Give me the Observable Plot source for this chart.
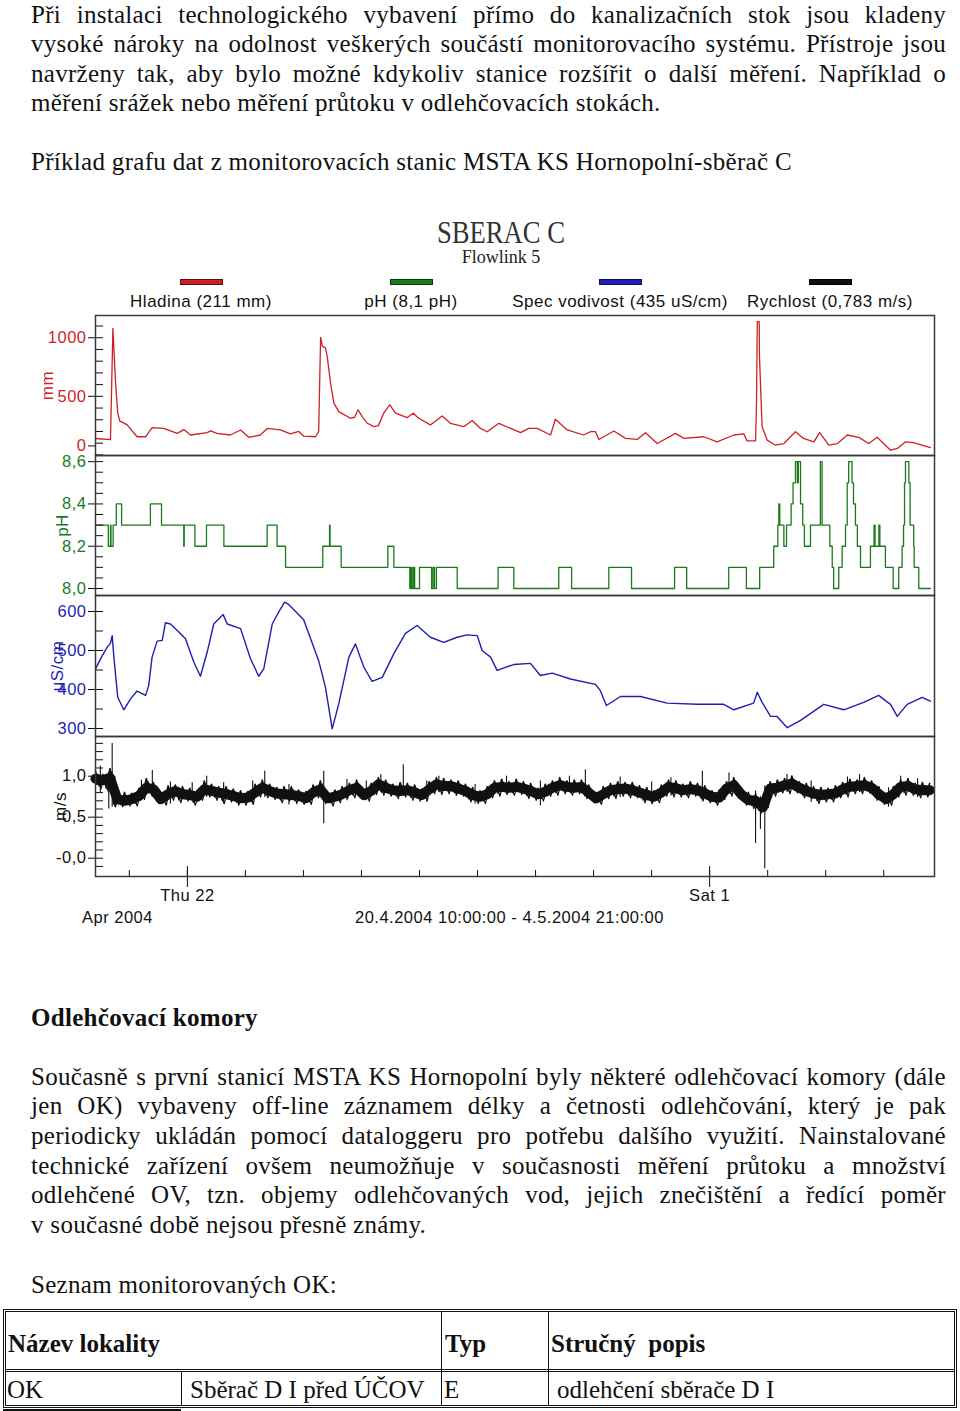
<!DOCTYPE html>
<html><head><meta charset="utf-8">
<script src="https://cdn.jsdelivr.net/npm/d3@7"></script>
<script src="https://cdn.jsdelivr.net/npm/@observablehq/plot@0.6"></script>
<style>
html,body{margin:0;padding:0;background:#fff;}
body{width:960px;height:1411px;position:relative;overflow:hidden;}
.abs{position:absolute;}
.serif{font-family:"Liberation Serif","Times New Roman",serif;color:#111;}
.sans{font-family:"Liberation Sans",Arial,sans-serif;color:#111;}
.p{position:absolute;left:31px;width:915px;font-size:25px;letter-spacing:0.3px;}
.p div{white-space:nowrap;text-align:justify;text-align-last:justify;}
.p div.last{text-align-last:left;}
.p1 div{height:29.5px;line-height:29.5px;}
.p2 div{height:29.6px;line-height:29.6px;}
.one{position:absolute;left:31px;font-size:25px;letter-spacing:0.3px;white-space:nowrap;line-height:29.5px;}
.cell{position:absolute;font-size:25px;line-height:25px;white-space:nowrap;}
.b{font-weight:bold;}
</style></head><body>

<div class="p p1 serif" style="top:-0.5px">
<div>Při instalaci technologického vybavení přímo do kanalizačních stok jsou kladeny</div>
<div>vysoké nároky na odolnost veškerých součástí monitorovacího systému. Přístroje jsou</div>
<div>navrženy tak, aby bylo možné kdykoliv stanice rozšířit o další měření. Například o</div>
<div class="last">měření srážek nebo měření průtoku v odlehčovacích stokách.</div>
</div>
<div class="one serif" style="top:146.8px">Příklad grafu dat z monitorovacích stanic MSTA KS Hornopolní-sběrač C</div>

<div id="title" class="abs serif" style="left:501px;top:216.6px;font-size:31px;line-height:31px;white-space:nowrap;transform:translateX(-50%) scaleX(0.86);color:#333">SBERAC C</div>
<div id="subtitle" class="abs serif" style="left:501px;top:247.9px;font-size:18px;line-height:18px;white-space:nowrap;transform:translateX(-50%);color:#222">Flowlink 5</div>
<div id="legend"></div>
<div id="charts"></div>
<div class="abs sans" style="left:82px;top:909px;font-size:16.5px;line-height:16.5px;letter-spacing:0.5px;white-space:nowrap">Apr 2004</div>
<div class="abs sans" style="left:355px;top:909px;font-size:16.5px;line-height:16.5px;letter-spacing:0.5px;white-space:nowrap">20.4.2004 10:00:00 - 4.5.2004 21:00:00</div>

<div class="one serif b" style="top:1002.8px">Odlehčovací komory</div>
<div class="p p2 serif" style="top:1061.8px">
<div>Současně s první stanicí MSTA KS Hornopolní byly některé odlehčovací komory (dále</div>
<div>jen OK) vybaveny off-line záznamem délky a četnosti odlehčování, který je pak</div>
<div>periodicky ukládán pomocí dataloggeru pro potřebu dalšího využití. Nainstalované</div>
<div>technické zařízení ovšem neumožňuje v současnosti měření průtoku a množství</div>
<div>odlehčené OV, tzn. objemy odlehčovaných vod, jejich znečištění a ředící poměr</div>
<div class="last">v současné době nejsou přesně známy.</div>
</div>
<div class="one serif" style="top:1269.8px">Seznam monitorovaných OK:</div>

<!-- table -->
<div class="abs" style="left:3px;top:1309px;width:948px;height:93px;border:3px double #111;"></div>
<div class="abs" style="left:6px;top:1369px;width:948px;height:0;border-top:3px double #111;"></div>
<div class="abs" style="left:441px;top:1312px;width:0;height:93px;border-left:1.5px solid #111;"></div>
<div class="abs" style="left:548px;top:1312px;width:0;height:93px;border-left:1.5px solid #111;"></div>
<div class="abs" style="left:181px;top:1372px;width:0;height:33px;border-left:1.5px solid #111;"></div>
<div class="abs" style="left:3px;top:1409px;width:178px;height:1.5px;background:#111;"></div>
<div class="cell serif b" style="left:8px;top:1331px">Název lokality</div>
<div class="cell serif b" style="left:445px;top:1331px">Typ</div>
<div class="cell serif b" style="left:551px;top:1331px">Stručný&nbsp; popis</div>
<div class="cell serif" style="left:7px;top:1377px">OK</div>
<div class="cell serif" style="left:190px;top:1377px">Sběrač D I před ÚČOV</div>
<div class="cell serif" style="left:444px;top:1377px">E</div>
<div class="cell serif" style="left:557px;top:1377px">odlehčení sběrače D I</div>

<script>
// ---------- data (hours since 20.4.2004 10:00) ----------
const legendLabels = ["Hladina (211 mm)", "pH (8,1 pH)", "Spec vodivost (435 uS/cm)", "Rychlost (0,783 m/s)"];
const seriesColors = ["#cf1f27", "#1b7a1b", "#1f1fb2", "#111111"];
const unitLabels = ["mm", "pH", "μS/cm", "m/s"];

// Hladina [hour, mm]
const levelReadings = [[0,140],[6.2,130],[6.7,600],[7.2,1080],[8.3,615],[9.2,356],[10.0,290],[13.1,256],[17.2,155],[20.7,155],[23.4,233],[28.2,226],[33.8,184],[36.5,216],[39.3,170],[46.2,190],[47.6,205],[50.3,184],[55.8,170],[60.0,213],[63.4,150],[68.2,170],[71.0,226],[76.5,213],[80.6,180],[84.1,200],[86.1,160],[91.0,155],[92.3,200],[93.1,1003],[93.8,931],[95.1,913],[95.8,845],[97.2,615],[98.6,442],[100.6,370],[105.5,313],[107.1,320],[108.6,385],[110.3,327],[112.4,270],[115.1,241],[117.0,250],[119.2,356],[121.7,428],[124.1,356],[128.9,319],[131.4,356],[133.7,313],[138.5,256],[143.4,333],[146.8,270],[152.3,241],[155.8,293],[159.2,226],[162.0,198],[166.8,270],[175.8,190],[179.2,226],[182.7,226],[188.2,170],[190.2,304],[195.1,213],[201.9,170],[204.7,198],[206.8,198],[208.2,132],[214.4,204],[219.2,141],[224.0,132],[227.5,190],[232.3,97],[239.9,184],[243.3,141],[251.6,155],[257.1,112],[264.0,170],[268.1,180],[269.5,120],[273.0,120],[273.4,457],[273.7,1138],[274.5,1138],[274.6,845],[275.7,241],[277.8,126],[281.2,83],[284.7,97],[289.5,198],[292.8,141],[297.1,112],[299.5,190],[303.3,83],[306.9,97],[310.9,170],[315.7,150],[319.8,97],[323.3,150],[328.8,40],[331.7,55],[335.0,112],[338.3,105],[345.3,63]];

// pH [hour, pH] (step)
const phReadings = [[0,8.3],[5.3,8.2],[6.2,8.3],[6.4,8.2],[7.3,8.3],[8.6,8.4],[10.8,8.3],[22.7,8.4],[27.3,8.3],[36.5,8.2],[36.7,8.3],[41.1,8.2],[45.9,8.3],[53.1,8.2],[71.0,8.3],[75.1,8.2],[78.6,8.1],[94.0,8.2],[96.8,8.3],[97.0,8.2],[101.6,8.1],[120.9,8.2],[123.4,8.1],[130.0,8.0],[130.5,8.1],[130.9,8.0],[131.5,8.1],[132.0,8.0],[134.0,8.1],[139.0,8.0],[139.6,8.1],[140.2,8.0],[141.0,8.1],[149.6,8.0],[166.5,8.1],[173.0,8.0],[191.6,8.1],[196.9,8.0],[212.3,8.1],[221.7,8.0],[239.5,8.1],[244.5,8.0],[261.9,8.1],[269.2,8.0],[274.7,8.1],[280.5,8.2],[282.2,8.3],[282.6,8.4],[283.0,8.3],[284.7,8.2],[285.8,8.3],[287.7,8.4],[288.5,8.5],[289.5,8.6],[290.3,8.5],[290.7,8.6],[291.6,8.4],[292.5,8.3],[293.2,8.2],[295.7,8.3],[299.8,8.6],[300.5,8.3],[303.7,8.2],[304.7,8.1],[305.3,8.0],[307.4,8.1],[308.8,8.2],[310.2,8.3],[310.9,8.5],[311.5,8.6],[312.9,8.5],[313.5,8.4],[314.3,8.3],[315.1,8.2],[316.4,8.1],[320.5,8.2],[322.0,8.3],[322.4,8.2],[324.0,8.3],[324.4,8.2],[326.7,8.1],[329.9,8.0],[332.2,8.1],[333.6,8.2],[334.2,8.3],[334.6,8.5],[335.0,8.6],[336.4,8.5],[336.9,8.3],[338.4,8.2],[338.6,8.1],[340.5,8.0],[345.3,8.0]];

// Spec vodivost [hour, uS/cm]
const condReadings = [[0,453],[2.8,487],[4.8,508],[6.2,519],[6.9,538],[7.6,483],[9.2,380],[11.7,348],[14.5,376],[17.2,396],[20.7,385],[22.0,410],[23.4,483],[25.5,524],[27.6,526],[28.9,571],[31.0,568],[35.2,543],[37.2,530],[40.7,470],[43.4,434],[46.2,496],[48.9,568],[52.8,592],[54.5,568],[60.0,556],[64.1,479],[67.5,434],[69.6,453],[73.1,568],[75.8,599],[78.2,624],[79.9,618],[86.1,579],[92.3,474],[95.1,406],[97.9,299],[100.6,363],[104.8,483],[107.5,517],[111.0,457],[114.4,421],[118.6,431],[123.4,492],[128.2,544],[133.0,564],[138.5,534],[144.0,521],[149.6,534],[153.7,540],[157.9,538],[159.9,500],[163.4,483],[166.1,449],[173.0,464],[179.9,467],[184.0,436],[188.9,442],[196.4,427],[206.8,413],[208.8,397],[211.3,359],[217.1,382],[225.4,382],[236.4,365],[248.8,362],[259.8,362],[264.0,348],[272.2,365],[273.7,393],[275.7,367],[279.2,331],[281.9,331],[286.1,302],[291.6,321],[301.2,362],[309.5,348],[317.7,367],[323.9,385],[328.8,362],[331.6,331],[335.7,362],[341.9,380],[345.3,370]];

// Rychlost: band centre [hour, m/s]
const speedCenter = [[0,0.97],[3,0.95],[6,0.98],[9,0.72],[12,0.70],[15,0.72],[18,0.76],[21,0.86],[24,0.84],[27,0.72],[30,0.78],[33,0.82],[36,0.78],[39,0.77],[42,0.75],[45,0.84],[48,0.82],[51,0.80],[54,0.78],[57,0.76],[60,0.73],[63,0.74],[66,0.80],[69,0.86],[72,0.82],[75,0.79],[78,0.78],[81,0.77],[84,0.76],[87,0.73],[90,0.80],[93,0.84],[96,0.73],[99,0.75],[102,0.78],[105,0.83],[108,0.86],[111,0.77],[114,0.82],[117,0.90],[120,0.86],[123,0.83],[126,0.82],[129,0.83],[132,0.80],[135,0.77],[138,0.84],[141,0.90],[144,0.88],[147,0.88],[150,0.85],[153,0.82],[156,0.77],[159,0.75],[162,0.78],[165,0.86],[168,0.87],[171,0.86],[174,0.87],[177,0.85],[180,0.82],[183,0.78],[186,0.81],[189,0.86],[192,0.89],[195,0.87],[198,0.86],[201,0.87],[204,0.80],[207,0.73],[210,0.78],[213,0.83],[216,0.84],[219,0.85],[222,0.83],[225,0.80],[228,0.77],[231,0.75],[234,0.80],[237,0.87],[240,0.85],[243,0.83],[246,0.84],[249,0.83],[252,0.79],[255,0.75],[258,0.74],[261,0.85],[264,0.89],[267,0.78],[270,0.71],[273,0.70],[276,0.62],[279,0.85],[282,0.86],[285,0.89],[288,0.91],[291,0.86],[294,0.82],[297,0.79],[300,0.77],[303,0.78],[306,0.79],[309,0.84],[312,0.87],[315,0.88],[318,0.89],[321,0.86],[324,0.78],[327,0.72],[330,0.78],[333,0.87],[336,0.88],[339,0.84],[342,0.83],[345,0.83]];
// Rychlost: noisy trace [hour, m/s]
const speedTrace = [[0,1.05],[1.5,0.87],[3,1.01],[4.5,0.84],[6,1.08],[7.5,0.65],[9,0.79],[10.5,0.65],[12,0.79],[13.5,0.66],[15,0.78],[16.5,0.66],[18,0.84],[19.5,0.74],[21,0.96],[22.5,0.79],[24,0.91],[25.5,0.69],[27,0.77],[28.5,0.67],[30,0.87],[31.5,0.73],[33,0.88],[34.5,0.70],[36,0.86],[37.5,0.72],[39,0.84],[40.5,0.67],[42,0.80],[43.5,0.73],[45,0.93],[46.5,0.77],[48,0.89],[49.5,0.73],[51,0.86],[52.5,0.69],[54,0.86],[55.5,0.71],[57,0.83],[58.5,0.67],[60,0.81],[61.5,0.67],[63,0.80],[64.5,0.68],[66,0.89],[67.5,0.77],[69,0.94],[70.5,0.76],[72,0.89],[73.5,0.74],[75,0.85],[76.5,0.70],[78,0.86],[79.5,0.72],[81,0.86],[82.5,0.69],[84,0.82],[85.5,0.68],[87,0.80],[88.5,0.68],[90,0.88],[91.5,0.76],[93,0.93],[94.5,0.69],[96,0.79],[97.5,0.66],[99,0.82],[100.5,0.70],[102,0.86],[103.5,0.75],[105,0.90],[106.5,0.76],[108,0.94],[109.5,0.75],[111,0.83],[112.5,0.72],[114,0.90],[115.5,0.80],[117,0.97],[118.5,0.79],[120,0.94],[121.5,0.78],[123,0.89],[124.5,0.75],[126,0.91],[127.5,0.77],[129,0.90],[130.5,0.73],[132,0.88],[133.5,0.72],[135,0.83],[136.5,0.73],[138,0.92],[139.5,0.81],[141,0.97],[142.5,0.80],[144,0.96],[145.5,0.81],[147,0.94],[148.5,0.79],[150,0.93],[151.5,0.78],[153,0.89],[154.5,0.71],[156,0.85],[157.5,0.69],[159,0.81],[160.5,0.69],[162,0.86],[163.5,0.76],[165,0.93],[166.5,0.78],[168,0.95],[169.5,0.80],[171,0.92],[172.5,0.79],[174,0.95],[175.5,0.80],[177,0.92],[178.5,0.75],[180,0.90],[181.5,0.73],[183,0.84],[184.5,0.72],[186,0.89],[187.5,0.78],[189,0.93],[190.5,0.79],[192,0.97],[193.5,0.81],[195,0.93],[196.5,0.79],[198,0.94],[199.5,0.81],[201,0.94],[202.5,0.75],[204,0.88],[205.5,0.70],[207,0.79],[208.5,0.68],[210,0.86],[211.5,0.75],[213,0.90],[214.5,0.75],[216,0.92],[217.5,0.78],[219,0.91],[220.5,0.76],[222,0.91],[223.5,0.76],[225,0.87],[226.5,0.70],[228,0.85],[229.5,0.69],[231,0.81],[232.5,0.70],[234,0.88],[235.5,0.78],[237,0.94],[238.5,0.77],[240,0.93],[241.5,0.77],[243,0.89],[244.5,0.76],[246,0.92],[247.5,0.78],[249,0.90],[250.5,0.72],[252,0.87],[253.5,0.70],[255,0.81],[256.5,0.67],[258,0.82],[259.5,0.74],[261,0.92],[262.5,0.78],[264,0.97],[265.5,0.77],[267,0.84],[268.5,0.67],[270,0.79],[271.5,0.63],[273,0.77],[274.5,0.57],[276,0.70],[277.5,0.64],[279,0.92],[280.5,0.78],[282,0.94],[283.5,0.82],[285,0.96],[286.5,0.81],[288,0.99],[289.5,0.82],[291,0.92],[292.5,0.76],[294,0.90],[295.5,0.75],[297,0.86],[298.5,0.69],[300,0.85],[301.5,0.71],[303,0.84],[304.5,0.71],[306,0.87],[307.5,0.76],[309,0.91],[310.5,0.77],[312,0.95],[313.5,0.81],[315,0.94],[316.5,0.81],[318,0.97],[319.5,0.82],[321,0.93],[322.5,0.73],[324,0.86],[325.5,0.68],[327,0.78],[328.5,0.67],[330,0.86],[331.5,0.77],[333,0.94],[334.5,0.79],[336,0.96],[337.5,0.79],[339,0.90],[340.5,0.76],[342,0.91],[343.5,0.77],[345,0.90]];
// Rychlost spikes [hour, low, high]
const speedSpikes = [[2,0.80,1.12],[5.5,0.60,1.05],[6.9,0.62,1.40],[8,0.62,1.0],[19,0.70,0.95],[23.5,0.74,1.07],[31,0.66,0.93],[40,0.70,0.92],[46,0.74,1.00],[53,0.66,0.92],[65,0.68,0.94],[70,0.74,1.06],[80,0.65,0.90],[94.4,0.42,1.06],[104,0.70,0.96],[112,0.70,0.94],[118,0.80,1.02],[127.3,0.76,1.14],[137,0.68,0.94],[142,0.80,1.00],[157,0.66,0.90],[170,0.78,1.00],[184,0.64,0.94],[196,0.80,1.00],[202.6,0.76,1.08],[217,0.74,0.99],[230,0.66,0.93],[238,0.76,0.98],[251,0.70,1.06],[262,0.80,1.04],[273,0.18,0.82],[275,0.35,0.75],[276.8,-0.13,0.88],[286,0.80,1.02],[296,0.68,0.94],[311,0.78,0.99],[316,0.80,1.02],[328,0.62,0.86],[333,0.80,1.00],[340,0.74,0.97]];

// axis ticks
const levelMajor = [500, 1000], levelMajorLabels = ["500", "1000"];
const levelZero = [0], levelZeroLabel = ["0"];
const levelMinor = [0,100,200,300,400,500,600,700,800,900,1000,1100];
const phMajor = [8.0, 8.2, 8.4, 8.6], phMajorLabels = ["8,0", "8,2", "8,4", "8,6"];
const phMinor = [8.0,8.05,8.1,8.15,8.2,8.25,8.3,8.35,8.4,8.45,8.5,8.55,8.6];
const condMajor = [300, 400, 500, 600], condMajorLabels = ["300", "400", "500", "600"];
const condMinor = [300,350,400,450,500,550,600];
const speedMajor = [0, 0.5, 1.0], speedMajorLabels = ["-0,0", "0,5", "1,0"];
const speedMinor = [-0.1,0,0.1,0.2,0.3,0.4,0.5,0.6,0.7,0.8,0.9,1.0,1.1,1.2,1.3,1.4];
const dayTicks = ["2004-04-21","2004-04-22","2004-04-23","2004-04-24","2004-04-25","2004-04-26","2004-04-27","2004-04-28","2004-04-29","2004-04-30","2004-05-01","2004-05-02","2004-05-03","2004-05-04"];
const labeledDays = ["2004-04-22", "2004-05-01"], labeledDayText = ["Thu 22", "Sat 1"];
const timeStart = "2004-04-20T10:00:00Z", timeEnd = "2004-05-04T21:00:00Z";

// ---------- build ----------
const T0 = new Date(timeStart).getTime();
const at = h => new Date(T0 + h * 3600000);
const day = s => new Date(s + "T00:00:00Z");
const [RED, GREEN, BLUE, BLACK] = seriesColors;

// legend
const legendCenters = [201, 411, 620, 830];
const legend = document.getElementById("legend");
legendLabels.forEach((lab, i) => {
  const sw = document.createElement("div");
  sw.className = "abs";
  sw.style.cssText = `left:${legendCenters[i] - 21}px;top:278.5px;width:41px;height:4px;background:${seriesColors[i]};border:1px solid ${i===3?"#000":"rgba(0,0,0,0.55)"};`;
  legend.appendChild(sw);
  const t = document.createElement("div");
  t.className = "abs sans";
  t.textContent = lab;
  t.style.cssText = `left:${legendCenters[i]}px;top:292.6px;font-size:17px;line-height:17px;letter-spacing:0.5px;white-space:nowrap;transform:translateX(-50%);`;
  legend.appendChild(t);
});

const baseStyle = {
  fontFamily: "'Liberation Sans', Arial, sans-serif",
  fontSize: "16.5px",
  letterSpacing: "0.5px",
  background: "transparent",
  overflow: "visible",
  color: "#111"
};
const FRAME = "#3a3a3a";

function yAxes(major, majorLabels, minor, color) {
  return [
    Plot.axisY(minor, {anchor: "left", tickSize: 8, dx: 8, fill: "none", stroke: "#111", label: null}),
    Plot.axisY(major, {anchor: "left", tickSize: 7, tickPadding: 2, stroke: "#111", fill: color, label: null,
      tickFormat: (d, i) => majorLabels[major.indexOf(d)]})
  ];
}
function unit(text, dx, color) {
  return Plot.text([text], {frameAnchor: "left", dx, rotate: -90, fill: color, fontSize: 17, text: d => d, textAnchor: "middle"});
}

function panel(top, height, marginBottom, yDomain, marks) {
  const svg = Plot.plot({
    width: 960, height, marginLeft: 95, marginRight: 26, marginTop: 1, marginBottom,
    x: {type: "utc", domain: [new Date(timeStart), new Date(timeEnd)], axis: null},
    y: {domain: yDomain, axis: null},
    style: baseStyle,
    marks
  });
  svg.style.position = "absolute";
  svg.style.left = "0px";
  svg.style.top = top + "px";
  document.getElementById("charts").appendChild(svg);
}

// Panel 1: Hladina
panel(314, 142, 1, [-5, 1190], [
  Plot.line(levelReadings, {x: d => at(d[0]), y: d => d[1], stroke: RED, strokeWidth: 1.3}),
  ...yAxes(levelMajor, levelMajorLabels, levelMinor, RED),
  Plot.axisY(levelZero, {anchor: "left", tickSize: 7, tickPadding: 2, stroke: "#111", fill: RED, label: null, dy: -9,
    tickFormat: () => levelZeroLabel[0]}),
  unit(unitLabels[0], -48, RED),
  Plot.frame({stroke: FRAME, strokeWidth: 1.5})
]);

// Panel 2: pH
panel(454, 142, 1, [7.967, 8.629], [
  Plot.line(phReadings, {x: d => at(d[0]), y: d => d[1], stroke: GREEN, strokeWidth: 1.3, curve: "step-after"}),
  ...yAxes(phMajor, phMajorLabels, phMinor, GREEN),
  unit(unitLabels[1], -33, GREEN),
  Plot.frame({stroke: FRAME, strokeWidth: 1.5})
]);

// Panel 3: Spec vodivost
panel(594, 143, 1, [279.5, 641], [
  Plot.line(condReadings, {x: d => at(d[0]), y: d => d[1], stroke: BLUE, strokeWidth: 1.4}),
  ...yAxes(condMajor, condMajorLabels, condMinor, BLUE),
  unit(unitLabels[2], -38, BLUE),
  Plot.frame({stroke: FRAME, strokeWidth: 1.5})
]);

// Panel 4: Rychlost
const days = dayTicks.map(day), majorDays = labeledDays.map(day);
panel(735, 171, 30, [-0.223, 1.484], [
  Plot.line(speedCenter, {x: d => at(d[0]), y: d => d[1], stroke: BLACK, strokeWidth: 10}),
  Plot.line(speedTrace, {x: d => at(d[0]), y: d => d[1], stroke: BLACK, strokeWidth: 1.6, dy: -1}),
  Plot.line(speedTrace, {x: d => at(d[0] + 0.75), y: d => d[1], stroke: BLACK, strokeWidth: 1.2, dy: 2}),
  Plot.ruleX(speedSpikes, {x: d => at(d[0]), y1: d => d[1], y2: d => d[2], stroke: BLACK, strokeWidth: 1.1}),
  ...yAxes(speedMajor, speedMajorLabels, speedMinor, BLACK),
  unit(unitLabels[3], -35, BLACK),
  Plot.axisX(days, {anchor: "bottom", tickSize: 6, dy: -6, fill: "none", stroke: "#111", label: null}),
  Plot.axisX(majorDays, {anchor: "bottom", tickSize: 10, dy: -10, fill: "none", stroke: "#111", label: null}),
  Plot.axisX(majorDays, {anchor: "bottom", tickSize: 11, tickPadding: 2, stroke: "#111", fill: "#111", label: null,
    tickFormat: (d, i) => labeledDayText[majorDays.findIndex(m => +m === +d)]}),
  Plot.frame({stroke: FRAME, strokeWidth: 1.5})
]);
</script>
</body></html>
